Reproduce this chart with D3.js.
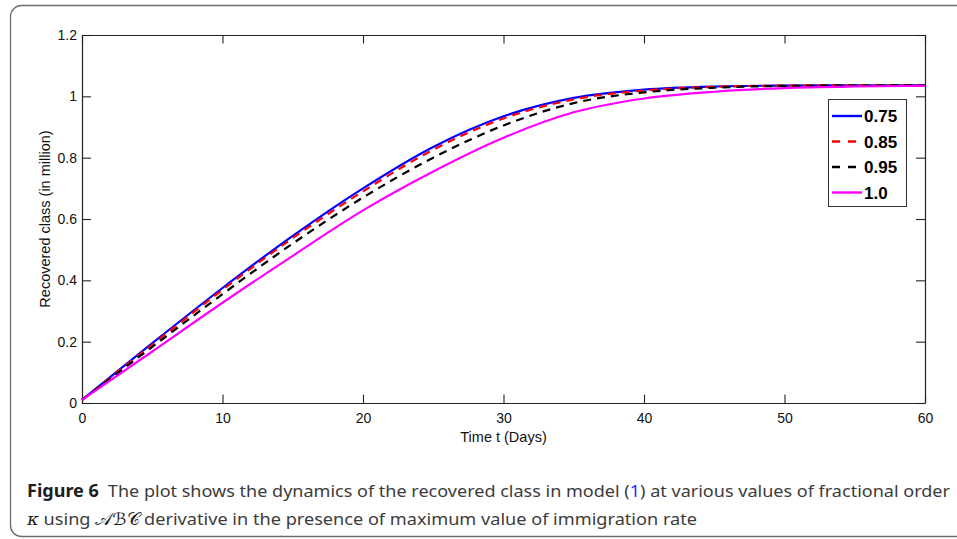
<!DOCTYPE html>
<html>
<head>
<meta charset="utf-8">
<script src="https://cdn.jsdelivr.net/npm/d3@7"></script>
<style>
  body { margin: 0; background: #fff; }
  svg { display: block; }
</style>
</head>
<body>
<div id="chart"></div>
<script>
// time in days
const days = [0, 5, 10, 15, 20, 25, 30, 35, 40, 45, 50, 55, 60];

// recovered class (in million) for each fractional order
const order075 = [0.01, 0.195, 0.375, 0.545, 0.70, 0.835, 0.935, 0.995, 1.022, 1.032, 1.035, 1.036, 1.036];
const order085 = [0.01, 0.19, 0.369, 0.538, 0.69, 0.826, 0.928, 0.99, 1.019, 1.031, 1.035, 1.036, 1.036];
const order095 = [0.01, 0.183, 0.355, 0.52, 0.67, 0.80, 0.905, 0.978, 1.013, 1.028, 1.034, 1.035, 1.036];
const order100 = [0.01, 0.168, 0.327, 0.48, 0.628, 0.755, 0.865, 0.948, 0.993, 1.015, 1.027, 1.032, 1.034];

const seriesLabels = ['0.75', '0.85', '0.95', '1.0'];
const xTicks = [0, 10, 20, 30, 40, 50, 60];
const yTicks = [0, 0.2, 0.4, 0.6, 0.8, 1, 1.2];

const svgWidth = 957;
const svgHeight = 539;

const margin = { top: 35, left: 82, right: 32, bottom: 136 };
const chartWidth = svgWidth - margin.left - margin.right;
const chartHeight = svgHeight - margin.top - margin.bottom;

const axisFont = '"Liberation Sans", Arial, sans-serif';

const svg = d3.select('#chart').append('svg')
  .attr('width', svgWidth)
  .attr('height', svgHeight);

// rounded frame around the figure (cut off on the right)
svg.append('rect')
  .attr('x', 10.5)
  .attr('y', 5.5)
  .attr('width', 980)
  .attr('height', 531)
  .attr('rx', 11)
  .attr('fill', 'none')
  .attr('stroke', '#6d6d6d')
  .attr('stroke-width', 1.3);

const chartGroup = svg.append('g').attr('transform', `translate(${margin.left}, ${margin.top})`);

const xLinearScale = d3.scaleLinear().domain([0, 60]).range([0, chartWidth]);
const yLinearScale = d3.scaleLinear().domain([0, 1.2]).range([chartHeight, 0]);

const yFormat = d => d === 0 || d === 1 ? String(d) : d3.format('.1f')(d);

// axes with inward ticks on all four sides
const bottomAxis = d3.axisBottom(xLinearScale).tickValues(xTicks).tickSizeInner(-8.5).tickSizeOuter(0).tickPadding(10);
const leftAxis = d3.axisLeft(yLinearScale).tickValues(yTicks).tickFormat(yFormat).tickSizeInner(-9).tickSizeOuter(0).tickPadding(5);
const topAxis = d3.axisTop(xLinearScale).tickValues(xTicks).tickSizeInner(-8.5).tickSizeOuter(0).tickFormat('');
const rightAxis = d3.axisRight(yLinearScale).tickValues(yTicks).tickSizeInner(-9).tickSizeOuter(0).tickFormat('');

chartGroup.append('g').attr('transform', `translate(0, ${chartHeight})`).call(bottomAxis);
chartGroup.append('g').call(leftAxis);
chartGroup.append('g').call(topAxis);
chartGroup.append('g').attr('transform', `translate(${chartWidth}, 0)`).call(rightAxis);

chartGroup.selectAll('.domain').attr('stroke', '#222').attr('stroke-width', 1.2);
chartGroup.selectAll('.tick line').attr('stroke', '#222').attr('stroke-width', 1.1);
chartGroup.selectAll('.tick text')
  .attr('font-family', axisFont)
  .attr('font-size', '14px')
  .attr('fill', '#111');

// curves
const seriesData = [
  { label: seriesLabels[0], values: order075, color: '#0000ff', dash: null },
  { label: seriesLabels[1], values: order085, color: '#ff0000', dash: '8,6' },
  { label: seriesLabels[2], values: order095, color: '#000000', dash: '8,6' },
  { label: seriesLabels[3], values: order100, color: '#ff00ff', dash: null }
];

const line = d3.line()
  .x((d, i) => xLinearScale(days[i]))
  .y(d => yLinearScale(d))
  .curve(d3.curveMonotoneX);

chartGroup.selectAll('.curve')
  .data(seriesData)
  .enter()
  .append('path')
  .classed('curve', true)
  .attr('d', d => line(d.values))
  .attr('fill', 'none')
  .attr('stroke', d => d.color)
  .attr('stroke-width', 2.2)
  .attr('stroke-dasharray', d => d.dash);

// axis titles
svg.append('text')
  .attr('x', margin.left + chartWidth / 2)
  .attr('y', 442)
  .attr('text-anchor', 'middle')
  .attr('font-family', axisFont)
  .attr('font-size', '14.5px')
  .attr('fill', '#111')
  .text('Time t (Days)');

svg.append('text')
  .attr('transform', `translate(50, ${margin.top + chartHeight / 2}) rotate(-90)`)
  .attr('text-anchor', 'middle')
  .attr('font-family', axisFont)
  .attr('font-size', '14.5px')
  .attr('fill', '#111')
  .text('Recovered class (in million)');

// legend
const legend = svg.append('g').attr('transform', 'translate(828, 99)');
legend.append('rect')
  .attr('x', 0.5)
  .attr('y', 0.5)
  .attr('width', 78)
  .attr('height', 107)
  .attr('fill', '#fff')
  .attr('stroke', '#333')
  .attr('stroke-width', 1);

const legendItems = legend.selectAll('.legend-item')
  .data(seriesData)
  .enter()
  .append('g')
  .classed('legend-item', true)
  .attr('transform', (d, i) => `translate(0, ${17 + i * 25.5})`);

legendItems.append('line')
  .attr('x1', 4)
  .attr('x2', 34)
  .attr('stroke', d => d.color)
  .attr('stroke-width', 2.4)
  .attr('stroke-dasharray', d => d.dash ? '8,8' : null);

legendItems.append('text')
  .attr('x', 36)
  .attr('y', 6)
  .attr('font-family', axisFont)
  .attr('font-weight', 'bold')
  .attr('font-size', '17px')
  .attr('fill', '#000')
  .text(d => d.label);

// caption, squeezed to the printed line widths
const captionFont = '"Noto Sans", "Open Sans", sans-serif';
const caption1 = svg.append('text')
  .attr('x', 27)
  .attr('y', 497)
  .attr('font-family', captionFont)
  .attr('font-size', '17px')
  .attr('textLength', 923)
  .attr('lengthAdjust', 'spacingAndGlyphs')
  .attr('fill', '#3c3c3c');
caption1.append('tspan').attr('font-weight', 'bold').attr('fill', '#1e1e1e').text('Figure 6');
caption1.append('tspan').text('\u2002The plot shows the dynamics of the recovered class in model (');
caption1.append('tspan').attr('fill', '#2b2bff').text('1');
caption1.append('tspan').text(') at various values of fractional order');

const caption2 = svg.append('text')
  .attr('x', 27)
  .attr('y', 524.5)
  .attr('font-family', captionFont)
  .attr('font-size', '17px')
  .attr('textLength', 670)
  .attr('lengthAdjust', 'spacingAndGlyphs')
  .attr('fill', '#3c3c3c');
caption2.append('tspan').attr('font-style', 'italic').attr('font-family', '"DejaVu Serif", serif').attr('fill', '#1e1e1e').text('\u03ba');
caption2.append('tspan').text(' using ');
caption2.append('tspan').attr('font-family', '"DejaVu Sans", serif').attr('fill', '#1e1e1e').text('\ud835\udc9c\u212c\ud835\udc9e');
caption2.append('tspan').text(' derivative in the presence of maximum value of immigration rate');
</script>
</body>
</html>
